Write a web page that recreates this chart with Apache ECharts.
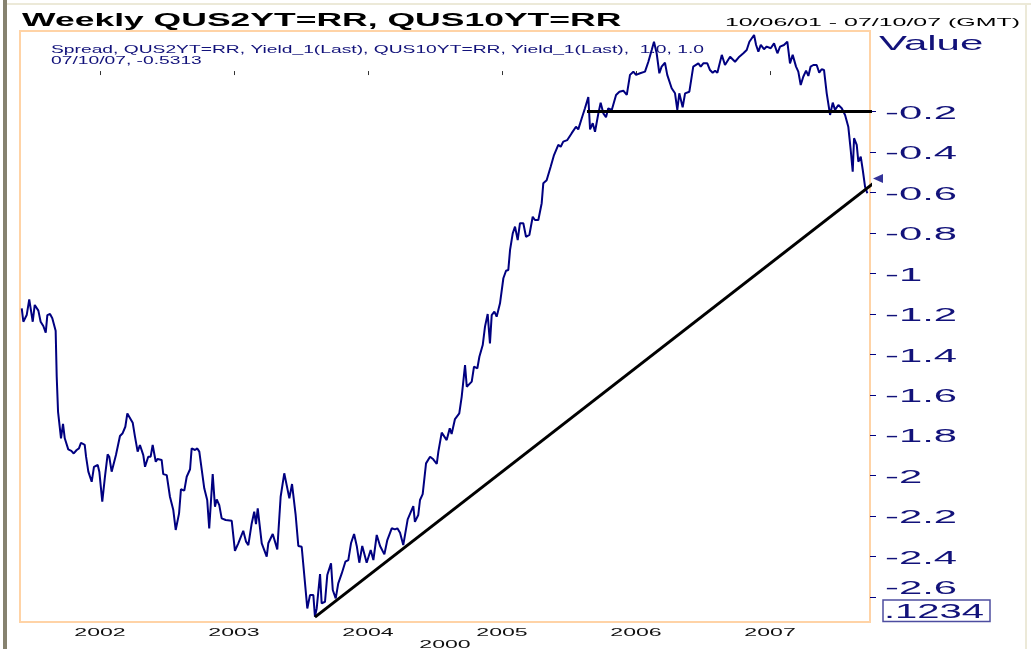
<!DOCTYPE html>
<html>
<head>
<meta charset="utf-8">
<script src="https://cdn.jsdelivr.net/npm/echarts@6.0.0/dist/echarts.min.js"></script>
<style>
html,body{margin:0;padding:0;background:#fff;}
#c{width:1031px;height:649px;}
</style>
</head>
<body>
<div id="c"></div>
<script>
// ---- data (decimal years, spread QUS2YT - QUS10YT) ----
const weekYears = [
2001.416,2001.428,2001.453,2001.472,2001.498,2001.513,2001.540,2001.557,2001.577,2001.595,
2001.607,2001.627,2001.644,2001.669,2001.677,2001.687,2001.709,2001.724,2001.737,2001.763,
2001.786,2001.804,2001.826,2001.843,2001.858,2001.886,2001.896,2001.913,2001.938,2001.955,
2001.983,2001.995,2002.017,2002.037,2002.057,2002.069,2002.087,2002.119,2002.149,2002.169,
2002.189,2002.204,2002.216,2002.244,2002.261,2002.281,2002.298,2002.323,2002.336,2002.360,
2002.378,2002.393,2002.416,2002.430,2002.460,2002.472,2002.498,2002.522,2002.547,2002.565,
2002.590,2002.604,2002.629,2002.647,2002.672,2002.684,2002.709,2002.726,2002.741,2002.778,
2002.800,2002.815,2002.841,2002.858,2002.871,2002.890,2002.908,2002.938,2002.983,2003.007,
2003.032,2003.069,2003.090,2003.107,2003.132,2003.151,2003.164,2003.177,2003.207,2003.244,
2003.256,2003.289,2003.323,2003.348,2003.375,2003.413,2003.433,2003.460,2003.480,2003.505,
2003.547,2003.567,2003.592,2003.604,2003.617,2003.642,2003.654,2003.679,2003.696,2003.724,
2003.737,2003.759,2003.778,2003.804,2003.831,2003.853,2003.873,2003.896,2003.916,2003.935,
2003.957,2003.970,2003.990,2004.020,2004.040,2004.065,2004.090,2004.122,2004.144,2004.177,
2004.201,2004.219,2004.239,2004.263,2004.296,2004.338,2004.350,2004.375,2004.388,2004.408,
2004.433,2004.463,2004.487,2004.513,2004.525,2004.550,2004.587,2004.610,2004.624,2004.649,
2004.681,2004.699,2004.724,2004.737,2004.774,2004.791,2004.816,2004.831,2004.856,2004.873,
2004.893,2004.910,2004.923,2004.943,2004.960,2004.985,2005.010,2005.030,2005.047,2005.060,
2005.080,2005.097,2005.117,2005.134,2005.159,2005.179,2005.204,2005.229,2005.246,2005.271,
2005.296,2005.308,2005.333,2005.363,2005.388,2005.420,2005.438,2005.457,2005.487,2005.520,
2005.552,2005.569,2005.595,2005.619,2005.644,2005.657,2005.677,2005.694,2005.719,2005.736,
2005.756,2005.776,2005.793,2005.819,2005.851,2005.876,2005.905,2005.931,2005.955,2005.980,
2006.000,2006.030,2006.067,2006.092,2006.117,2006.134,2006.154,2006.174,2006.191,2006.216,
2006.233,2006.266,2006.291,2006.308,2006.323,2006.348,2006.366,2006.398,2006.427,2006.465,
2006.483,2006.502,2006.532,2006.552,2006.572,2006.590,2006.607,2006.640,2006.664,2006.702,
2006.739,2006.771,2006.801,2006.826,2006.846,2006.881,2006.896,2006.913,2006.931,2006.955,
2006.975,2007.005,2007.030,2007.055,2007.075,2007.104,2007.129,2007.149,2007.169,2007.194,
2007.211,2007.229,2007.248,2007.269,2007.286,2007.303,2007.323,2007.348,2007.367,2007.385,
2007.403,2007.423,2007.448,2007.468,2007.485,2007.510,2007.535,2007.560,2007.584,2007.602,
2007.617,2007.627,2007.647,2007.659,2007.677,2007.692,2007.709,2007.726
];
const spread = [
-1.173,-1.239,-1.206,-1.128,-1.239,-1.156,-1.184,-1.239,-1.260,-1.293,
-1.206,-1.201,-1.222,-1.283,-1.511,-1.684,-1.815,-1.744,-1.815,-1.870,
-1.877,-1.890,-1.873,-1.865,-1.837,-1.848,-1.906,-1.980,-2.030,-1.956,
-1.947,-1.980,-2.128,-2.005,-1.894,-1.906,-1.980,-1.898,-1.804,-1.790,
-1.758,-1.692,-1.689,-1.738,-1.807,-1.881,-1.848,-1.898,-1.956,-1.906,
-1.906,-1.848,-1.931,-1.917,-1.922,-1.992,-1.997,-2.104,-2.170,-2.268,
-2.186,-2.067,-2.074,-2.005,-1.968,-1.865,-1.873,-1.865,-1.881,-2.062,
-2.120,-2.260,-1.992,-2.153,-2.117,-2.145,-2.211,-2.219,-2.223,-2.371,
-2.334,-2.272,-2.326,-2.343,-2.236,-2.178,-2.239,-2.161,-2.334,-2.400,
-2.334,-2.288,-2.364,-2.104,-1.988,-2.112,-2.041,-2.194,-2.347,-2.351,
-2.656,-2.590,-2.590,-2.697,-2.656,-2.486,-2.631,-2.623,-2.491,-2.433,
-2.565,-2.606,-2.532,-2.483,-2.425,-2.417,-2.334,-2.288,-2.347,-2.430,
-2.347,-2.354,-2.430,-2.367,-2.417,-2.293,-2.347,-2.389,-2.318,-2.260,
-2.265,-2.260,-2.282,-2.343,-2.216,-2.150,-2.228,-2.194,-2.120,-2.091,
-1.939,-1.906,-1.919,-1.942,-1.881,-1.787,-1.824,-1.766,-1.794,-1.720,
-1.692,-1.610,-1.453,-1.560,-1.535,-1.461,-1.469,-1.412,-1.354,-1.263,
-1.201,-1.346,-1.206,-1.189,-1.214,-1.148,-1.024,-0.987,-0.983,-0.884,
-0.802,-0.769,-0.835,-0.752,-0.752,-0.819,-0.810,-0.720,-0.736,-0.736,
-0.653,-0.555,-0.540,-0.473,-0.415,-0.365,-0.374,-0.349,-0.341,-0.307,
-0.275,-0.288,-0.233,-0.184,-0.129,-0.288,-0.258,-0.300,-0.209,-0.156,
-0.209,-0.228,-0.184,-0.192,-0.118,-0.102,-0.097,-0.118,-0.019,-0.003,
-0.019,-0.011,-0.003,0.046,0.104,0.145,0.088,-0.011,0.022,0.041,
-0.019,-0.085,-0.110,-0.192,-0.110,-0.179,-0.110,-0.102,0.022,0.038,
0.022,0.038,0.038,0.005,-0.008,0.002,-0.008,0.080,0.030,0.071,
0.046,0.071,0.088,0.104,0.145,0.178,0.129,0.096,0.129,0.108,
0.121,0.113,0.137,0.088,0.121,0.129,0.145,0.038,0.080,0.022,
-0.003,-0.069,-0.028,0.002,-0.024,0.022,0.030,0.030,-0.008,0.009,
0.005,-0.110,-0.217,-0.156,-0.192,-0.168,-0.184,-0.217,-0.275,-0.390,
-0.497,-0.332,-0.365,-0.448,-0.423,-0.489,-0.571,-0.604
];
const lastValue = -0.5313;

// hand-drawn trend lines (start / end)
const resistanceYears = [2005.634, 2008.172];
const resistanceValues = [-0.2, -0.2];
const supportYears = [2003.604, 2008.172];
const supportValues = [-2.699, -0.349];

// axes
const xMin = 2001.403, xMax = 2007.746;
const yMin = -2.723, yMax = 0.198;
const xTicks = [2002, 2003, 2004, 2005, 2006, 2007];
const xTickLabels = ['2002', '2003', '2004', '2005', '2006', '2007'];
const yTicks = [-0.2, -0.4, -0.6, -0.8, -1, -1.2, -1.4, -1.6, -1.8, -2, -2.2, -2.4, -2.6];
const yTickLabels = ['-0.2', '-0.4', '-0.6', '-0.8', '-1', '-1.2', '-1.4', '-1.6', '-1.8', '-2', '-2.2', '-2.4', '-2.6'];

// texts
const titleText = 'Weekly QUS2YT=RR, QUS10YT=RR';
const rangeText = '10/06/01 - 07/10/07 (GMT)';
const legendLine1 = 'Spread, QUS2YT=RR, Yield_1(Last), QUS10YT=RR, Yield_1(Last),  1.0, 1.0';
const legendLine2 = '07/10/07, -0.5313';
const valueText = 'Value';
const boxText = '.1234';
const extraYearText = '2000';

const FONT = "'Liberation Sans', Arial, Helvetica, sans-serif";
const NAVY = '#000080';
const TXT = '#12127a';

const chart = echarts.init(document.getElementById('c'), null, {renderer: 'canvas'});

function zip(a, b) { return a.map((v, i) => [v, b[i]]); }

chart.setOption({
  animation: false,
  backgroundColor: '#ffffff',
  grid: {left: 20, right: 161, top: 31, bottom: 27, show: true,
         borderColor: '#ffd3a6', borderWidth: 2, backgroundColor: '#ffffff'},
  xAxis: {
    type: 'value', min: xMin, max: xMax,
    axisLine: {show: false}, splitLine: {show: false},
    axisLabel: {show: false},
    axisTick: {show: true, customValues: xTicks, length: 4, lineStyle: {color: '#333', width: 1}}
  },
  yAxis: {
    type: 'value', position: 'right', min: yMin, max: yMax,
    axisLine: {show: false}, splitLine: {show: false},
    axisLabel: {show: false},
    axisTick: {show: true, customValues: yTicks, length: 6, lineStyle: {color: NAVY, width: 1}}
  },
  series: [
    {type: 'line', data: zip(weekYears, spread), symbol: 'none', z: 2,
     lineStyle: {color: NAVY, width: 2}},
    {type: 'line', data: zip(resistanceYears, resistanceValues), symbol: 'none', clip: false, z: 3,
     lineStyle: {color: '#000', width: 3}},
    {type: 'line', data: zip(supportYears, supportValues), symbol: 'none', clip: false, z: 3,
     lineStyle: {color: '#000', width: 3}},
    {type: 'scatter', data: [[xMax, lastValue]], symbol: 'triangle', symbolRotate: 90,
     symbolSize: [9, 10], symbolOffset: [8, 0], clip: false, z: 2,
     itemStyle: {color: NAVY}}
  ]
});

function txt(x, y, text, size, sx, color, align, weight) {
  return {
    type: 'text', x: x, y: y, scaleX: sx, silent: true, z: 100,
    style: {
      text: text, x: 0, y: 0,
      font: (weight || 'normal') + ' ' + size + 'px ' + FONT,
      fill: color,
      textAlign: align || 'left', align: align || 'left',
      textVerticalAlign: 'middle', verticalAlign: 'middle'
    }
  };
}

const g = [];
// outer frame
g.push({type: 'rect', silent: true, z: 90, shape: {x: 3, y: 0, width: 4, height: 649}, style: {fill: '#86826f'}});
g.push({type: 'rect', silent: true, z: 90, shape: {x: 7, y: 3, width: 1024, height: 2}, style: {fill: '#ece9d8'}});
g.push({type: 'rect', silent: true, z: 90, shape: {x: 1025, y: 3, width: 2, height: 646}, style: {fill: '#ece9d8'}});

// header texts
g.push(txt(22, 21, titleText, 18.6, 1.91, '#000', 'left', 'bold'));
g.push(txt(1020, 23, rangeText, 11.6, 2.15, '#000', 'right'));
g.push(txt(51, 50, legendLine1, 10.7, 1.8, TXT, 'left'));
g.push(txt(51, 61.3, legendLine2, 10.7, 1.8, TXT, 'left'));
g.push(txt(879, 44.5, valueText, 21, 2.0, TXT, 'left'));

// y tick labels from the axis scale
yTicks.forEach((v, i) => {
  let py = chart.convertToPixel({yAxisIndex: 0}, v) + 2;
  if (i === yTicks.length - 1) py -= 10;
  g.push(txt(885, py, yTickLabels[i], 19, 2.2, TXT, 'left'));
});
// x tick labels from the axis scale
xTicks.forEach((v, i) => {
  const px = chart.convertToPixel({xAxisIndex: 0}, v);
  g.push(txt(px, 632.5, xTickLabels[i], 11, 2.1, '#111', 'center'));
});
g.push(txt(445, 645, extraYearText, 11, 2.1, '#111', 'center'));

// value box
g.push({type: 'rect', silent: true, z: 99, shape: {x: 883, y: 600, width: 107, height: 21.5},
        style: {fill: '#ffffff', stroke: '#4d4da0', lineWidth: 1.5}});
g.push(txt(884, 612, boxText, 20, 2.0, TXT, 'left'));

chart.setOption({graphic: g});
</script>
</body>
</html>
